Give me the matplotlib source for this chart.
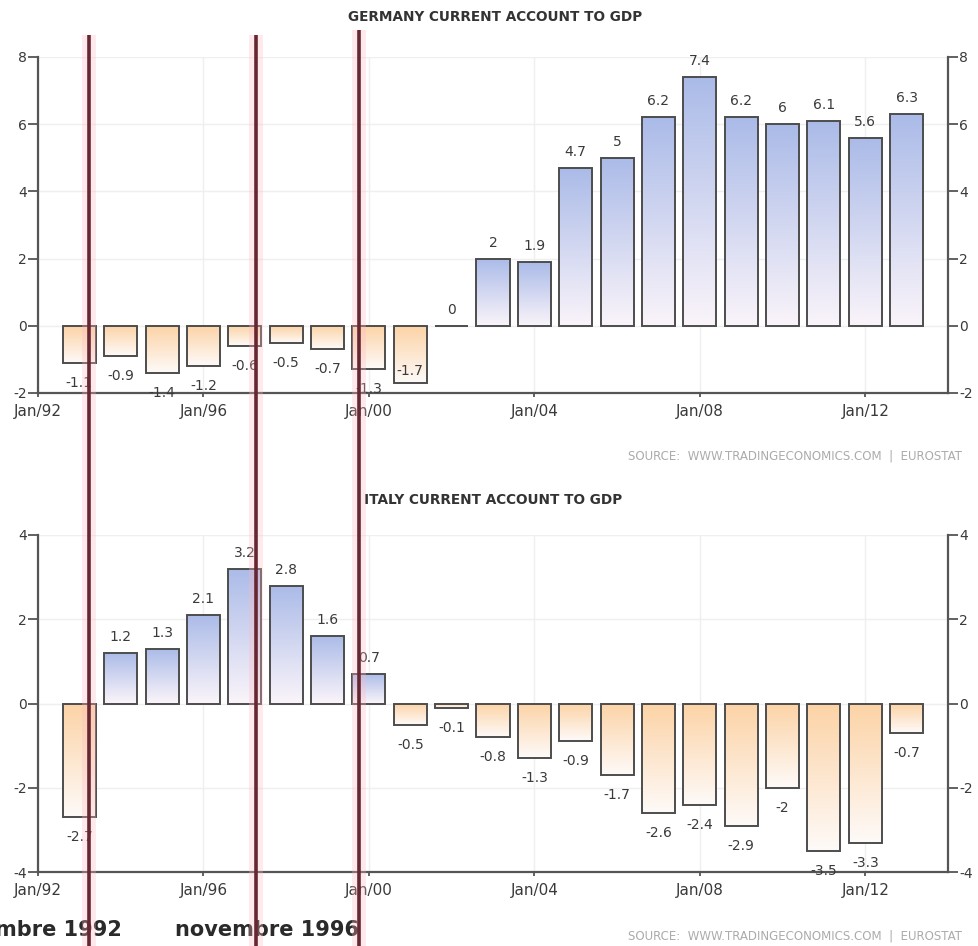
import matplotlib.pyplot as plt
import numpy as np
from matplotlib.lines import Line2D
from matplotlib.colors import to_rgb

# annual current account balance, % of GDP
years = list(range(1993, 2014))
germany = [-1.1, -0.9, -1.4, -1.2, -0.6, -0.5, -0.7, -1.3, -1.7, 0,
           2, 1.9, 4.7, 5, 6.2, 7.4, 6.2, 6, 6.1, 5.6, 6.3]
italy = [-2.7, 1.2, 1.3, 2.1, 3.2, 2.8, 1.6, 0.7, -0.5, -0.1,
         -0.8, -1.3, -0.9, -1.7, -2.6, -2.4, -2.9, -2, -3.5, -3.3, -0.7]

xtick_years = [1992, 1996, 2000, 2004, 2008, 2012]
xtick_labels = ['Jan/92', 'Jan/96', 'Jan/00', 'Jan/04', 'Jan/08', 'Jan/12']

# ERM exit / re-entry marks and their captions
event_years = [1993.23, 1997.27, 1999.76]
event_labels = ['settembre 1992', 'novembre 1996']

W, H = 979, 946
EDGE = '#4d4d4d'
AXC = '#555555'
TXT = '#3a3a3a'

POS_TOP, POS_BASE = to_rgb('#abbbe8'), to_rgb('#faf4fa')
NEG_TOP, NEG_BASE = to_rgb('#fcd3a6'), to_rgb('#fefaf8')


def gradient(c_from, c_to, n=64):
    t = np.linspace(0, 1, n)[:, None, None]
    a = np.array(c_from)[None, None, :]
    b = np.array(c_to)[None, None, :]
    return a + (b - a) * t


def draw_panel(ax, values, ylim, yticks):
    ax.set_xlim(1992, 2014)
    ax.set_ylim(*ylim)
    ax.set_autoscale_on(False)

    bars = ax.bar(years, values, width=0.8, facecolor='none',
                  edgecolor=EDGE, linewidth=1.4, zorder=3)
    for b, v in zip(bars, values):
        if v == 0:
            continue
        x0, w = b.get_x(), b.get_width()
        if v > 0:
            img = gradient(POS_BASE, POS_TOP)
            ext = (x0, x0 + w, 0, v)
        else:
            img = gradient(NEG_TOP, NEG_BASE)[::-1]
            ext = (x0, x0 + w, v, 0)
        im = ax.imshow(img, extent=ext, origin='lower', aspect='auto',
                       interpolation='bilinear', zorder=2)
        im.set_clip_path(b)

    ax.set_xticks(xtick_years)
    ax.set_xticklabels(xtick_labels)
    ax.set_yticks(yticks)
    ax.set_yticklabels([str(t) for t in yticks])
    ax.grid(True, color='#efefef', linewidth=1.0, zorder=0)
    ax.set_axisbelow(True)

    for s in ['left', 'right', 'bottom']:
        ax.spines[s].set_color(AXC)
        ax.spines[s].set_linewidth(1.6)
    ax.spines['top'].set_visible(False)
    ax.tick_params(axis='y', left=True, right=True, labelleft=True,
                   labelright=True, length=7, width=1.3, color=AXC,
                   labelsize=10, labelcolor=TXT, pad=1)
    ax.tick_params(axis='x', length=3, width=1.3, color=AXC,
                   labelsize=11, labelcolor=TXT, pad=5)

    # value labels: above positive bars, below negative ones,
    # tucked inside the bar when they would fall off the axis
    y_axis_px = ax.transData.transform((1992, ylim[0]))[1]
    for x, v in zip(years, values):
        label = '{:g}'.format(v)
        if v >= 0:
            dy = 16
        else:
            bottom_px = ax.transData.transform((x, v))[1]
            dy = -20 if bottom_px - 20 > y_axis_px - 6 else 12
        ax.annotate(label, (x, v), xytext=(0, dy), textcoords='offset pixels',
                    ha='center', va='center', fontsize=10, color=TXT,
                    zorder=4)


fig = plt.figure(figsize=(W / 100, H / 100), dpi=100)
ax_de = fig.add_axes([38 / W, 1 - 393 / H, 910 / W, 336 / H])
ax_it = fig.add_axes([38 / W, 1 - 872 / H, 910 / W, 337 / H])

draw_panel(ax_de, germany, (-2, 8), [-2, 0, 2, 4, 6, 8])
draw_panel(ax_it, italy, (-4, 4), [-4, -2, 0, 2, 4])

fig.text(495 / W, 1 - 17 / H, 'GERMANY CURRENT ACCOUNT TO GDP', ha='center',
         va='center', fontsize=9.8, fontweight='bold', color='#333333')
fig.text(493 / W, 1 - 500 / H, 'ITALY CURRENT ACCOUNT TO GDP', ha='center',
         va='center', fontsize=9.8, fontweight='bold', color='#333333')

src = 'SOURCE:  WWW.TRADINGECONOMICS.COM  |  EUROSTAT'
for yp in (456, 936):
    fig.text(962 / W, 1 - yp / H, src, ha='right', va='center',
             fontsize=8.5, color='#ababab')

# captions under the plot
fig.text(122 / W, 1 - 930 / H, event_labels[0], ha='right', va='center',
         fontsize=15, fontweight='bold', color='#2a2a2a')
fig.text(175 / W, 1 - 930 / H, event_labels[1], ha='left', va='center',
         fontsize=15, fontweight='bold', color='#2a2a2a')

# vertical event lines drawn across both panels
inv = fig.transFigure.inverted()
tops = [1 - 35 / H, 1 - 35 / H, 1 - 30 / H]
for yr, top in zip(event_years, tops):
    xf = inv.transform(ax_de.transData.transform((yr, 0)))[0]
    fig.add_artist(Line2D([xf, xf], [0, top], transform=fig.transFigure,
                          color='#ffb8c2', alpha=0.3, linewidth=10,
                          solid_capstyle='butt', zorder=5))
    fig.add_artist(Line2D([xf, xf], [0, top], transform=fig.transFigure,
                          color='#652830', linewidth=2.6,
                          solid_capstyle='butt', zorder=6))

fig.savefig('out.png', dpi=100, facecolor='white')
